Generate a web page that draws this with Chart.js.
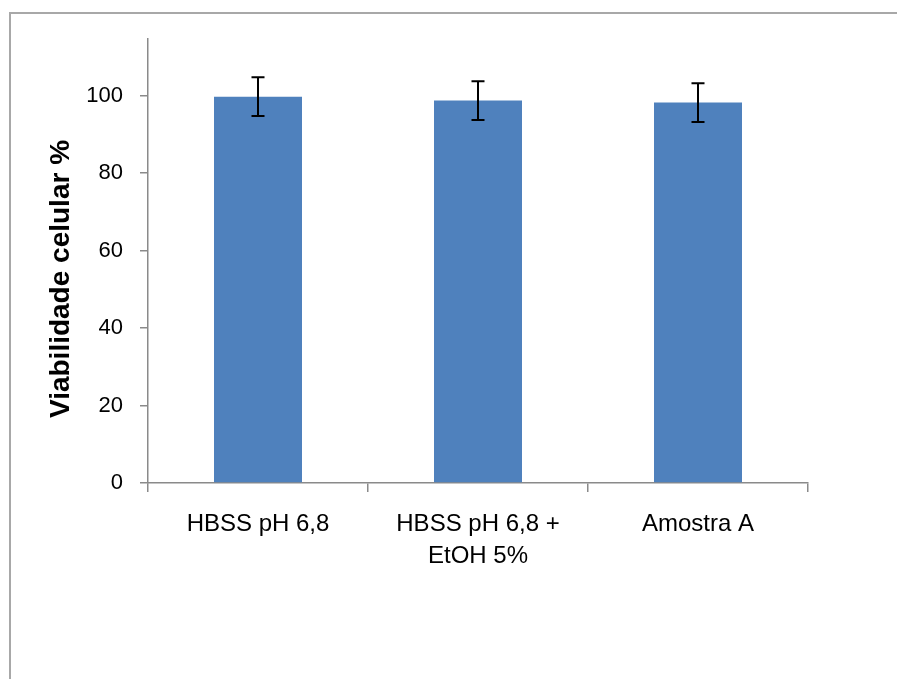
<!DOCTYPE html>
<html>
<head>
<meta charset="utf-8">
<script src="https://cdn.jsdelivr.net/npm/chart.js@4"></script>
<style>
html, body { margin: 0; padding: 0; background: #fff; }
#wrap { position: relative; width: 897px; height: 679px; overflow: hidden; }
#frame { position: absolute; left: 9px; top: 12px; right: -10px; bottom: -10px; border-top: 2px solid #a8a8a8; border-left: 2px solid #a8a8a8; }
canvas { position: absolute; left: 0; top: 0; }
</style>
</head>
<body>
<div id="wrap">
  <div id="frame"></div>
  <canvas id="graficoViabilidade" width="897" height="679"></canvas>
</div>
<script>
// dados
const categorias = ['HBSS pH 6,8', ['HBSS pH 6,8 +', 'EtOH 5%'], 'Amostra A'];
const viabilidade = [99.7, 98.7, 98.2];
const desvio = [5, 5, 5];
const ticksY = [0, 20, 40, 60, 80, 100];
const tituloY = 'Viabilidade celular %';

const corEixo = '#8a8a8a';
const fonte = "'Liberation Sans', Arial, sans-serif";

// barras de erro (desvio padrão)
const barrasErro = {
    id: 'barrasErro',
    afterDatasetsDraw(chart) {
        const ctx = chart.ctx;
        const y = chart.scales.y;
        const meta = chart.getDatasetMeta(0);
        ctx.save();
        ctx.strokeStyle = '#000';
        ctx.lineWidth = 2;
        meta.data.forEach((barra, i) => {
            const x = barra.x;
            const topo = y.getPixelForValue(viabilidade[i] + desvio[i]);
            const base = y.getPixelForValue(viabilidade[i] - desvio[i]);
            ctx.beginPath();
            ctx.moveTo(x, topo); ctx.lineTo(x, base);
            ctx.moveTo(x - 6.5, topo); ctx.lineTo(x + 6.5, topo);
            ctx.moveTo(x - 6.5, base); ctx.lineTo(x + 6.5, base);
            ctx.stroke();
        });
        ctx.restore();
    }
};

// título do eixo Y
const tituloEixoY = {
    id: 'tituloEixoY',
    afterDraw(chart) {
        const ctx = chart.ctx;
        ctx.save();
        ctx.translate(61, 279);
        ctx.rotate(-Math.PI / 2);
        ctx.font = "bold 28px " + fonte;
        ctx.fillStyle = '#000';
        ctx.textAlign = 'center';
        ctx.textBaseline = 'middle';
        ctx.fillText(tituloY, 0, 0);
        ctx.restore();
    }
};

const ctxGrafico = document.getElementById('graficoViabilidade').getContext('2d');
const grafico = new Chart(ctxGrafico, {
    type: 'bar',
    data: {
        labels: categorias,
        datasets: [{
            label: tituloY,
            data: viabilidade,
            backgroundColor: '#4F81BD',
            borderWidth: 0,
            barPercentage: 0.4,
            categoryPercentage: 1
        }]
    },
    options: {
        responsive: false,
        animation: false,
        layout: {
            padding: { top: 39, right: 89, bottom: 0, left: 0 }
        },
        plugins: {
            legend: { display: false },
            title: { display: false },
            tooltip: { enabled: false }
        },
        scales: {
            x: {
                afterFit(scale) { scale.height = 679 - 483; },
                grid: {
                    offset: true,
                    drawOnChartArea: false,
                    tickLength: 9,
                    color: corEixo,
                    lineWidth: 1.5
                },
                border: { color: corEixo, width: 1.5 },
                ticks: {
                    color: '#000',
                    padding: 17,
                    maxRotation: 0,
                    autoSkip: false,
                    font: { family: fonte, size: 24, lineHeight: 1.32 }
                }
            },
            y: {
                min: 0,
                max: 114.6,
                afterFit(scale) { scale.width = 148; },
                afterBuildTicks(scale) {
                    scale.ticks = ticksY.map(v => ({ value: v }));
                },
                grid: {
                    drawOnChartArea: false,
                    tickLength: 8,
                    color: corEixo,
                    lineWidth: 1.5
                },
                border: { color: corEixo, width: 1.5 },
                ticks: {
                    color: '#000',
                    padding: 17,
                    font: { family: fonte, size: 22 }
                }
            }
        }
    },
    plugins: [barrasErro, tituloEixoY]
});
</script>
</body>
</html>
